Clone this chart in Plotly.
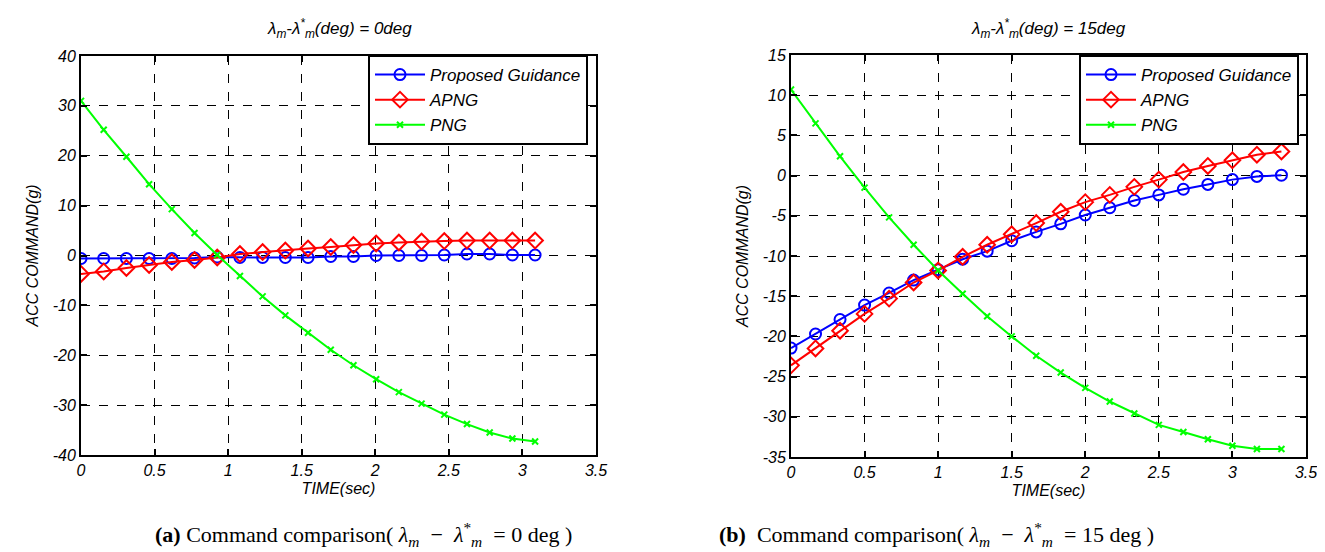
import plotly.graph_objects as go

# ---- data ----
t_a = [i * 3.086 / 20 for i in range(21)]
prop_a = [-0.6, -0.6, -0.6, -0.6, -0.6, -0.5, -0.3, -0.4, -0.4, -0.4, -0.4,
          -0.2, -0.2, 0.0, 0.0, 0.0, 0.1, 0.3, 0.3, 0.1, 0.1]
apng_a = [-3.7, -3.2, -2.5, -1.9, -1.3, -0.9, -0.4, 0.3, 0.7, 1.0, 1.4,
          1.7, 2.1, 2.4, 2.6, 2.8, 2.9, 3.0, 3.0, 3.0, 3.0]
png_a = [31.0, 25.2, 19.8, 14.3, 9.3, 4.5, 0.1, -4.1, -8.2, -12.0, -15.5,
         -18.9, -22.0, -24.8, -27.4, -29.7, -31.9, -33.8, -35.5, -36.7, -37.3]

t_b = [i * 3.333 / 20 for i in range(21)]
prop_b = [-21.45, -19.7, -17.9, -16.1, -14.6, -13.0, -11.7, -10.4, -9.4, -8.1, -7.0,
          -6.0, -4.9, -4.0, -3.1, -2.4, -1.7, -1.1, -0.5, -0.1, 0.05]
apng_b = [-23.6, -21.5, -19.3, -17.2, -15.3, -13.3, -11.8, -10.1, -8.6, -7.3, -5.9,
          -4.5, -3.3, -2.4, -1.4, -0.5, 0.45, 1.2, 1.9, 2.6, 3.0]
png_b = [10.7, 6.5, 2.4, -1.5, -5.2, -8.6, -11.8, -14.7, -17.5, -20.0, -22.4,
         -24.5, -26.4, -28.1, -29.6, -31.0, -31.9, -32.8, -33.6, -34.0, -34.0]

series_names = ["Proposed Guidance", "APNG", "PNG"]
x_ticks = [0, 0.5, 1, 1.5, 2, 2.5, 3, 3.5]
x_ticktext = ["0", "0.5", "1", "1.5", "2", "2.5", "3", "3.5"]
y_ticks_a = [-40, -30, -20, -10, 0, 10, 20, 30, 40]
y_ticks_b = [-35, -30, -25, -20, -15, -10, -5, 0, 5, 10, 15]

FONT = "Liberation Sans"
styles = [
    dict(color="#0000ff", symbol="circle-open", size=11),
    dict(color="#ff0000", symbol="diamond-open", size=12),
    dict(color="#00ff00", symbol="x-thin-open", size=6),
]

fig = go.Figure()

def add_series(t, ys, xa, ya, legend):
    for name, y, st in zip(series_names, ys, styles):
        col = st["color"]
        fig.add_trace(go.Scatter(
            x=t, y=y, name=name, mode="lines+markers",
            xaxis=xa, yaxis=ya, legend=legend, showlegend=True,
            line=dict(color=col, width=2),
            marker=dict(symbol=st["symbol"], size=st["size"], color=col,
                        line=dict(color=col, width=2)),
        ))

add_series(t_a, [prop_a, apng_a, png_a], "x", "y", "legend")
add_series(t_b, [prop_b, apng_b, png_b], "x2", "y2", "legend2")

ax_common = dict(
    showline=True, linecolor="black", linewidth=2, mirror="ticks",
    ticks="inside", ticklen=6, tickcolor="black", tickwidth=1.5,
    showgrid=True, gridcolor="black", gridwidth=1, griddash="dash",
    zeroline=False, automargin=False,
    tickfont=dict(family=FONT, size=16, color="black", style="italic"),
)
axtitle_font = dict(family=FONT, size=16, color="black", style="italic")
legend_font = dict(family=FONT, size=17, color="black", style="italic")

fig.update_layout(
    width=1325, height=552,
    paper_bgcolor="white", plot_bgcolor="white",
    margin=dict(l=0, r=0, t=0, b=0),
    showlegend=True,
    xaxis=dict(domain=[73 / 1325, 588 / 1325], range=[0, 3.5], tickvals=x_ticks,
               ticktext=x_ticktext, anchor="y",
               title=dict(text="TIME(sec)", standoff=5, font=axtitle_font),
               **ax_common),
    yaxis=dict(domain=[1 - 447 / 552, 1 - 48 / 552], range=[-40, 40], tickvals=y_ticks_a,
               ticktext=[str(v) for v in y_ticks_a], anchor="x",
               title=dict(text="ACC COMMAND(g)", standoff=10, font=axtitle_font),
               **ax_common),
    xaxis2=dict(domain=[783 / 1325, 1298 / 1325], range=[0, 3.5], tickvals=x_ticks,
                ticktext=x_ticktext, anchor="y2",
                title=dict(text="TIME(sec)", standoff=5, font=axtitle_font),
                **ax_common),
    yaxis2=dict(domain=[1 - 449 / 552, 1 - 47 / 552], range=[-35, 15], tickvals=y_ticks_b,
                ticktext=[str(v) for v in y_ticks_b], anchor="x2",
                title=dict(text="ACC COMMAND(g)", standoff=10, font=axtitle_font),
                **ax_common),
    legend=dict(x=580 / 1325, y=1 - 47 / 552, xanchor="right", yanchor="top",
                bgcolor="white", bordercolor="black", borderwidth=2,
                itemwidth=50, tracegroupgap=0, font=legend_font),
    legend2=dict(x=1291 / 1325, y=1 - 47 / 552, xanchor="right", yanchor="top",
                 bgcolor="white", bordercolor="black", borderwidth=2,
                 itemwidth=50, tracegroupgap=0, font=legend_font),
)

title_font = dict(family=FONT, size=17, color="black", style="italic")
fig.add_annotation(text="λ<sub>m</sub>-λ<sup>*</sup><sub>m</sub>(deg) = 0deg",
                   x=331 / 1325, y=1 - 20 / 552, xref="paper", yref="paper",
                   xanchor="center", yanchor="middle",
                   showarrow=False, font=title_font)
fig.add_annotation(text="λ<sub>m</sub>-λ<sup>*</sup><sub>m</sub>(deg) = 15deg",
                   x=1040 / 1325, y=1 - 20 / 552, xref="paper", yref="paper",
                   xanchor="center", yanchor="middle",
                   showarrow=False, font=title_font)

S = "\u00a0"
cap_font = dict(family="Liberation Serif", size=22, color="black")
cap_a = ("<b>(a)</b> Command comparison(" + S + "<i>λ<sub>m</sub></i>" + S * 2 + "−" + S * 2
         + "<i>λ</i><sup>*</sup><sub><i>m</i></sub>" + S * 2 + "=" + S + "0" + S + "deg" + S + ")")
cap_b = ("<b>(b)</b>" + S * 2 + "Command comparison(" + S + "<i>λ<sub>m</sub></i>" + S * 2 + "−" + S * 2
         + "<i>λ</i><sup>*</sup><sub><i>m</i></sub>" + S * 2 + "=" + S + "15" + S + "deg" + S + ")")
fig.add_annotation(text=cap_a, x=356 / 1325, y=1 - 526 / 552, xref="paper", yref="paper",
                   xanchor="center", yanchor="middle", showarrow=False, font=cap_font)
fig.add_annotation(text=cap_b, x=928 / 1325, y=1 - 526 / 552, xref="paper", yref="paper",
                   xanchor="center", yanchor="middle", showarrow=False, font=cap_font)

fig.write_html("out.html")
